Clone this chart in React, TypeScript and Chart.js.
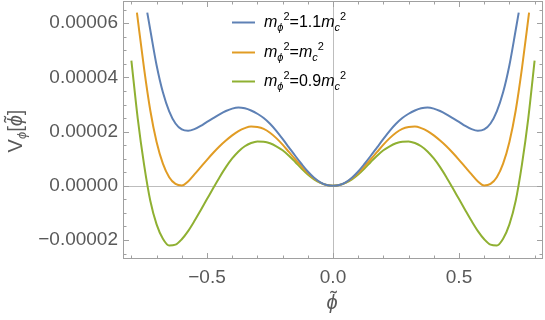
import React, { useEffect, useRef } from 'react';
import { Chart, registerables } from 'chart.js';

Chart.register(...registerables);

// values of V in units of 1e-5
const blueX = [-0.737, -0.725, -0.7, -0.675, -0.65, -0.625, -0.6, -0.575, -0.55, -0.525, -0.5, -0.475, -0.45, -0.425, -0.4, -0.375, -0.35, -0.325, -0.3, -0.275, -0.25, -0.225, -0.2, -0.175, -0.15, -0.125, -0.1, -0.075, -0.05, -0.025, 0, 0.025, 0.05, 0.075, 0.1, 0.125, 0.15, 0.175, 0.2, 0.225, 0.25, 0.275, 0.3, 0.325, 0.35, 0.375, 0.4, 0.425, 0.45, 0.475, 0.5, 0.525, 0.55, 0.575, 0.6, 0.625, 0.65, 0.675, 0.7, 0.725, 0.737];
const blueY = [6.39, 5.75, 4.45, 3.45, 2.75, 2.30, 2.08, 2.03, 2.09, 2.21, 2.36, 2.50, 2.64, 2.76, 2.85, 2.89, 2.86, 2.78, 2.66, 2.50, 2.29, 2.03, 1.73, 1.42, 1.11, 0.81, 0.53, 0.30, 0.13, 0.03, 0, 0.03, 0.13, 0.30, 0.53, 0.81, 1.11, 1.42, 1.73, 2.03, 2.29, 2.50, 2.66, 2.78, 2.86, 2.89, 2.85, 2.76, 2.64, 2.50, 2.36, 2.21, 2.09, 2.03, 2.08, 2.30, 2.75, 3.45, 4.45, 5.75, 6.39];

const orangeX = [-0.778, -0.75, -0.725, -0.7, -0.675, -0.65, -0.625, -0.6, -0.575, -0.55, -0.525, -0.5, -0.475, -0.45, -0.425, -0.4, -0.375, -0.35, -0.325, -0.3, -0.275, -0.25, -0.225, -0.2, -0.175, -0.15, -0.125, -0.1, -0.075, -0.05, -0.025, 0, 0.025, 0.05, 0.075, 0.1, 0.125, 0.15, 0.175, 0.2, 0.225, 0.25, 0.275, 0.3, 0.325, 0.35, 0.375, 0.4, 0.425, 0.45, 0.475, 0.5, 0.525, 0.55, 0.575, 0.6, 0.625, 0.65, 0.675, 0.7, 0.725, 0.75, 0.778];
const orangeY = [6.39, 4.35, 2.78, 1.62, 0.82, 0.32, 0.07, 0.01, 0.16, 0.42, 0.69, 0.96, 1.22, 1.46, 1.67, 1.86, 2.02, 2.13, 2.19, 2.17, 2.10, 1.96, 1.76, 1.52, 1.25, 0.98, 0.72, 0.47, 0.27, 0.12, 0.03, 0, 0.03, 0.12, 0.27, 0.47, 0.72, 0.98, 1.25, 1.52, 1.76, 1.96, 2.10, 2.17, 2.19, 2.13, 2.02, 1.86, 1.67, 1.46, 1.22, 0.96, 0.69, 0.42, 0.16, 0.01, 0.07, 0.32, 0.82, 1.62, 2.78, 4.35, 6.39];

const greenX = [-0.8, -0.775, -0.75, -0.725, -0.7, -0.675, -0.65, -0.625, -0.6, -0.575, -0.55, -0.525, -0.5, -0.475, -0.45, -0.425, -0.4, -0.375, -0.35, -0.325, -0.3, -0.275, -0.25, -0.225, -0.2, -0.175, -0.15, -0.125, -0.1, -0.075, -0.05, -0.025, 0, 0.025, 0.05, 0.075, 0.1, 0.125, 0.15, 0.175, 0.2, 0.225, 0.25, 0.275, 0.3, 0.325, 0.35, 0.375, 0.4, 0.425, 0.45, 0.475, 0.5, 0.525, 0.55, 0.575, 0.6, 0.625, 0.65, 0.675, 0.7, 0.725, 0.75, 0.775, 0.8];
const greenY = [4.62, 2.50, 0.80, -0.55, -1.42, -1.95, -2.20, -2.17, -1.97, -1.67, -1.30, -0.90, -0.49, -0.08, 0.32, 0.69, 1.01, 1.27, 1.46, 1.58, 1.64, 1.63, 1.57, 1.46, 1.31, 1.11, 0.88, 0.64, 0.42, 0.24, 0.11, 0.03, 0, 0.03, 0.11, 0.24, 0.42, 0.64, 0.88, 1.11, 1.31, 1.46, 1.57, 1.63, 1.64, 1.58, 1.46, 1.27, 1.01, 0.69, 0.32, -0.08, -0.49, -0.90, -1.30, -1.67, -1.97, -2.17, -2.20, -1.95, -1.42, -0.55, 0.80, 2.50, 4.62];

const seriesCoef = ['1.1', '', '0.9'];
const seriesColors = ['#5E81B5', '#E19C24', '#8FB032'];

const xTickValues = [-0.5, 0, 0.5];
const xTickLabels = ['\u22120.5', '0.0', '0.5'];
const yTickValues = [-2, 0, 2, 4, 6];
const yTickLabels = ['\u22120.00002', '0.00000', '0.00002', '0.00004', '0.00006'];
const xMinorTicks = [-0.8, -0.7, -0.6, -0.4, -0.3, -0.2, -0.1, 0.1, 0.2, 0.3, 0.4, 0.6, 0.7, 0.8];
const yMinorTicks = [-2.5, -1.5, -1, -0.5, 0.5, 1, 1.5, 2.5, 3, 3.5, 4.5, 5, 5.5, 6.5];

const FONT = '"Liberation Sans", Arial, Helvetica, sans-serif';
const LABEL_COLOR = '#595959';
const FRAME_COLOR = '#a0a0a0';
const AXIS_COLOR = '#bdbdbd';

type Part = { t: string; size: number; italic?: boolean; dy?: number; tilde?: boolean };

function partsWidth(ctx: CanvasRenderingContext2D, parts: Part[]) {
  let w = 0;
  for (const p of parts) {
    ctx.font = `${p.italic ? 'italic ' : ''}${p.size}px ${FONT}`;
    w += ctx.measureText(p.t).width;
  }
  return w;
}

function drawParts(ctx: CanvasRenderingContext2D, x: number, y: number, parts: Part[]) {
  let cx = x;
  ctx.textAlign = 'left';
  ctx.textBaseline = 'alphabetic';
  for (const p of parts) {
    ctx.font = `${p.italic ? 'italic ' : ''}${p.size}px ${FONT}`;
    const w = ctx.measureText(p.t).width;
    ctx.fillText(p.t, cx, y + (p.dy || 0));
    if (p.tilde) {
      ctx.save();
      ctx.font = `${p.size}px ${FONT}`;
      ctx.textAlign = 'center';
      ctx.fillText('\u02DC', cx + w / 2 + p.size * 0.08, y + (p.dy || 0) - p.size * 0.2);
      ctx.restore();
    }
    cx += w;
  }
  return cx;
}

const decorPlugin = {
  id: 'decor',
  beforeDatasetsDraw(chart: any) {
    const { ctx, chartArea: a, scales } = chart;
    const xs = scales.x;
    const ys = scales.y;
    ctx.save();
    ctx.lineWidth = 1;
    ctx.strokeStyle = AXIS_COLOR;
    const x0 = Math.round(xs.getPixelForValue(0)) + 0.5;
    const y0 = Math.round(ys.getPixelForValue(0)) + 0.5;
    ctx.beginPath();
    ctx.moveTo(x0, a.top);
    ctx.lineTo(x0, a.bottom);
    ctx.moveTo(a.left, y0);
    ctx.lineTo(a.right, y0);
    ctx.stroke();
    ctx.strokeStyle = FRAME_COLOR;
    ctx.strokeRect(a.left + 0.5, a.top + 0.5, a.right - a.left - 1, a.bottom - a.top - 1);
    ctx.beginPath();
    const xt = (v: number, len: number) => {
      const px = Math.round(xs.getPixelForValue(v)) + 0.5;
      ctx.moveTo(px, a.bottom);
      ctx.lineTo(px, a.bottom - len);
      ctx.moveTo(px, a.top);
      ctx.lineTo(px, a.top + len);
    };
    const yt = (v: number, len: number) => {
      const py = Math.round(ys.getPixelForValue(v)) + 0.5;
      ctx.moveTo(a.left, py);
      ctx.lineTo(a.left + len, py);
      ctx.moveTo(a.right, py);
      ctx.lineTo(a.right - len, py);
    };
    xTickValues.forEach((v) => xt(v, 6));
    xMinorTicks.forEach((v) => xt(v, 3.5));
    yTickValues.forEach((v) => yt(v, 6));
    yMinorTicks.forEach((v) => yt(v, 3.5));
    ctx.stroke();
    ctx.restore();
  },
  afterDatasetsDraw(chart: any) {
    const { ctx } = chart;
    ctx.save();
    const rowY = [22, 52, 81];
    seriesCoef.forEach((coef, i) => {
      const cy = rowY[i];
      ctx.strokeStyle = seriesColors[i];
      ctx.lineWidth = 2;
      ctx.beginPath();
      ctx.moveTo(232, cy + 0.5);
      ctx.lineTo(255, cy + 0.5);
      ctx.stroke();
      ctx.fillStyle = '#000';
      drawParts(ctx, 264, cy + 5, [
        { t: 'm', size: 16, italic: true },
        { t: '\u03D5', size: 11, italic: true, dy: 4 },
        { t: '2', size: 11, dy: -7 },
        { t: '=' + coef, size: 16 },
        { t: 'm', size: 16, italic: true },
        { t: 'c', size: 11, italic: true, dy: 4 },
        { t: '2', size: 11, dy: -7 },
      ]);
    });
    ctx.fillStyle = LABEL_COLOR;
    const xParts: Part[] = [{ t: '\u03D5', size: 20, italic: true, tilde: true }];
    const xw = partsWidth(ctx, xParts);
    drawParts(ctx, 332 - xw / 2, 309, xParts);
    const yParts: Part[] = [
      { t: 'V', size: 20 },
      { t: '\u03D5', size: 13, italic: true, dy: 4 },
      { t: '[', size: 20 },
      { t: '\u03D5', size: 20, italic: true, tilde: true },
      { t: ']', size: 20 },
    ];
    const yw = partsWidth(ctx, yParts);
    ctx.translate(22, 131);
    ctx.rotate(-Math.PI / 2);
    drawParts(ctx, -yw / 2, 0, yParts);
    ctx.restore();
  },
};

export default function App() {
  const ref = useRef<HTMLCanvasElement | null>(null);
  useEffect(() => {
    if (!ref.current) return;
    const mk = (xs: number[], ys: number[]) => xs.map((x, i) => ({ x, y: ys[i] }));
    const chart = new Chart(ref.current, {
      type: 'line',
      data: {
        datasets: [
          { label: 'blue', data: mk(blueX, blueY), borderColor: seriesColors[0] },
          { label: 'orange', data: mk(orangeX, orangeY), borderColor: seriesColors[1] },
          { label: 'green', data: mk(greenX, greenY), borderColor: seriesColors[2] },
        ].map((d) => ({
          ...d,
          borderWidth: 2,
          pointRadius: 0,
          fill: false,
          cubicInterpolationMode: 'monotone' as const,
        })),
      },
      options: {
        responsive: false,
        animation: false,
        events: [],
        layout: { padding: { top: 1, right: 2, left: 0, bottom: 0 } },
        plugins: { legend: { display: false }, tooltip: { enabled: false } },
        scales: {
          x: {
            type: 'linear',
            min: -0.8333,
            max: 0.8333,
            grid: { display: false, drawTicks: false },
            border: { display: false },
            afterBuildTicks: (s: any) => {
              s.ticks = xTickValues.map((v) => ({ value: v }));
            },
            afterFit: (s: any) => {
              s.height = 61;
              s.paddingLeft = 0;
              s.paddingRight = 0;
            },
            ticks: {
              autoSkip: false,
              maxRotation: 0,
              padding: 7,
              color: LABEL_COLOR,
              font: { family: FONT, size: 19 },
              callback: (v: any) => {
                const i = xTickValues.indexOf(v);
                return i >= 0 ? xTickLabels[i] : '';
              },
            },
          },
          y: {
            type: 'linear',
            min: -2.7,
            max: 6.82,
            grid: { display: false, drawTicks: false },
            border: { display: false },
            afterBuildTicks: (s: any) => {
              s.ticks = yTickValues.map((v) => ({ value: v }));
            },
            afterFit: (s: any) => {
              s.width = 123;
              s.paddingTop = 0;
              s.paddingBottom = 0;
            },
            ticks: {
              autoSkip: false,
              padding: 5,
              color: LABEL_COLOR,
              font: { family: FONT, size: 19 },
              callback: (v: any) => {
                const i = yTickValues.indexOf(v);
                return i >= 0 ? yTickLabels[i] : '';
              },
            },
          },
        },
      },
      plugins: [decorPlugin],
    } as any);
    return () => chart.destroy();
  }, []);
  return (
    <div style={{ position: 'absolute', left: 0, top: 0, width: 545, height: 320, background: '#fff' }}>
      <canvas ref={ref} width={545} height={320} style={{ display: 'block' }} />
    </div>
  );
}
